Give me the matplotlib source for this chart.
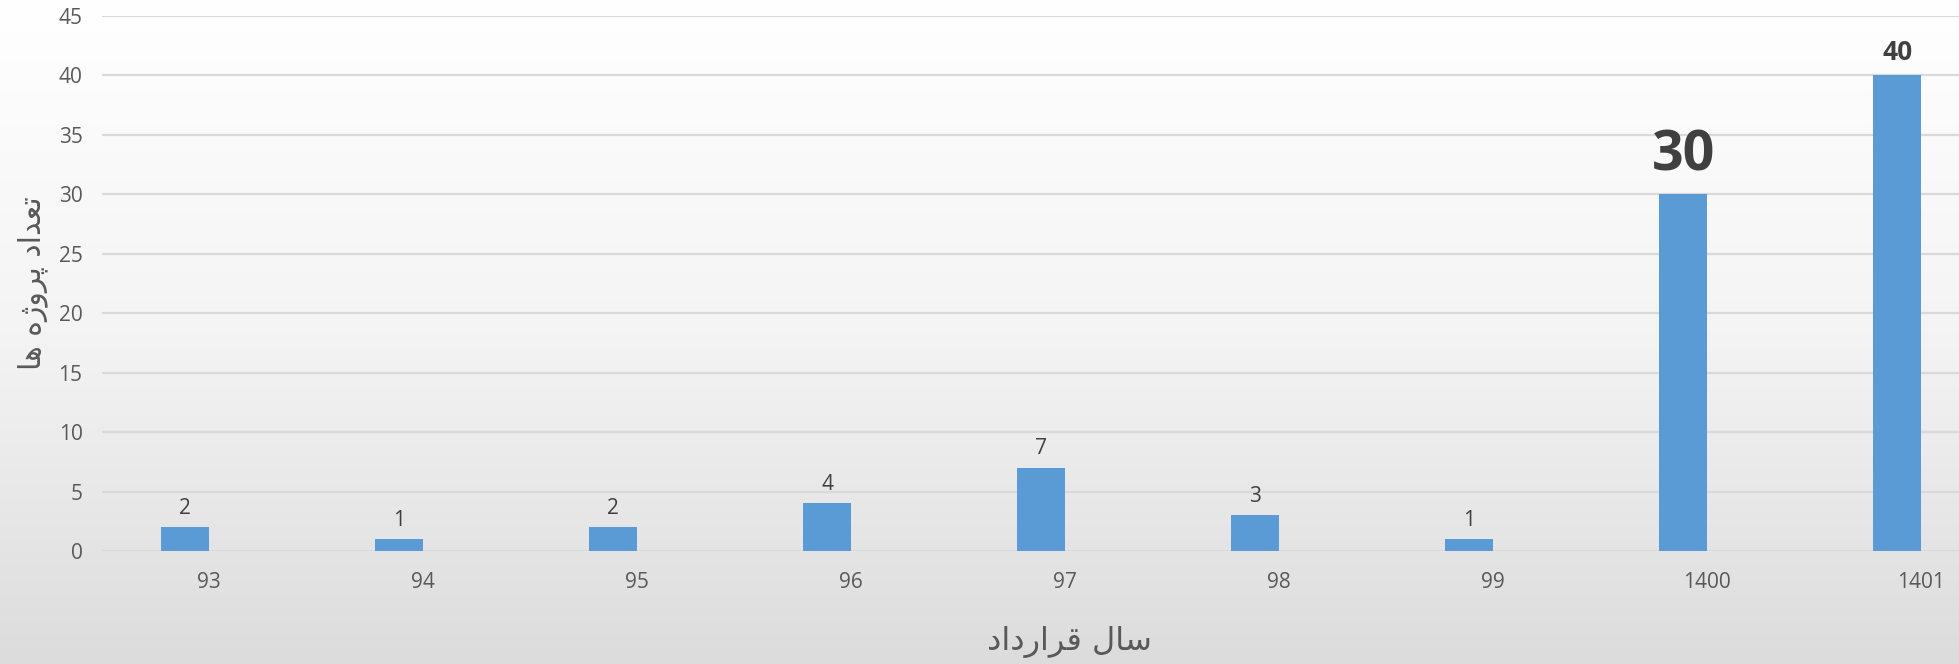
import numpy as np
import matplotlib
matplotlib.use("Agg")
import matplotlib.pyplot as plt
from matplotlib.colors import LinearSegmentedColormap

# ---- data ----
years = ['93', '94', '95', '96', '97', '98', '99', '1400', '1401']
counts = [2, 1, 2, 4, 7, 3, 1, 30, 40]
y_ticks = [0, 5, 10, 15, 20, 25, 30, 35, 40, 45]

# Persian titles (presentation forms, visual order so they render joined)
x_title = "\uFEA9\uFE8D\uFEA9\uFEAD\uFE8D\uFEAE\uFED7 \uFEDD\uFE8E\uFEB3"        # سال قرارداد
y_title = "\uFE8E\uFEEB \uFEE9\uFB8A\uFEED\uFEAE\uFB58 \uFEA9\uFE8D\uFEAA\uFECC\uFE97"  # تعداد پروژه ها

W, H = 1959, 664
fig = plt.figure(figsize=(W / 100, H / 100), dpi=100)

# background gradient
bg = fig.add_axes([0, 0, 1, 1], zorder=-10)
grad = np.linspace(0, 1, 256).reshape(-1, 1)
cmap = LinearSegmentedColormap.from_list("bg", ["#ffffff", "#f4f4f4", "#dcdcdc"])
bg.imshow(grad, aspect='auto', cmap=cmap, extent=[0, 1, 0, 1], origin='upper')
bg.set_axis_off()

left_px, bottom_px, top_px = 102, 551, 16
ax = fig.add_axes([left_px / W, 1 - bottom_px / H, 1 - left_px / W, (bottom_px - top_px) / H])
ax.patch.set_alpha(0)

x = np.arange(len(years))
bar_w = 0.224
ax.bar(x - bar_w / 2, counts, width=bar_w, color='#5B9BD5', zorder=3)

ax.set_ylim(0, 45)
ax.set_xlim(-0.5, 8.177)
ax.set_yticks(y_ticks)
ax.set_xticks(x)
ax.set_xticklabels(years)
ax.grid(axis='y', color='#d9d9d9', linewidth=1.6, zorder=0)
ax.grid(axis='x', visible=False)
for s in ax.spines.values():
    s.set_visible(False)
ax.tick_params(axis='both', length=0, colors='#595959', labelsize=15)
ax.tick_params(axis='x', pad=15)
ax.tick_params(axis='y', pad=14)
for lab in ax.get_xticklabels() + ax.get_yticklabels():
    lab.set_fontfamily('Open Sans')

# data labels
for xi, v in zip(x, counts):
    if v == 30:
        fs, fw, off = 40, 'bold', 8
    elif v == 40:
        fs, fw, off = 19, 'bold', 7
    else:
        fs, fw, off = 15, 'normal', 6
    ax.annotate(str(v), (xi - bar_w / 2, v), xytext=(0, off), textcoords='offset points',
                ha='center', va='bottom', fontsize=fs, fontweight=fw,
                color='#404040', family='Open Sans')

ax.set_xlabel(x_title, fontsize=23, color='#595959', family='DejaVu Sans')
ax.xaxis.set_label_coords(0.521, -0.14)
ax.set_ylabel(y_title, fontsize=21.5, color='#595959', family='DejaVu Sans')
ax.yaxis.set_label_coords(-0.029, 0.5)

fig.savefig('out.png', dpi=100)
